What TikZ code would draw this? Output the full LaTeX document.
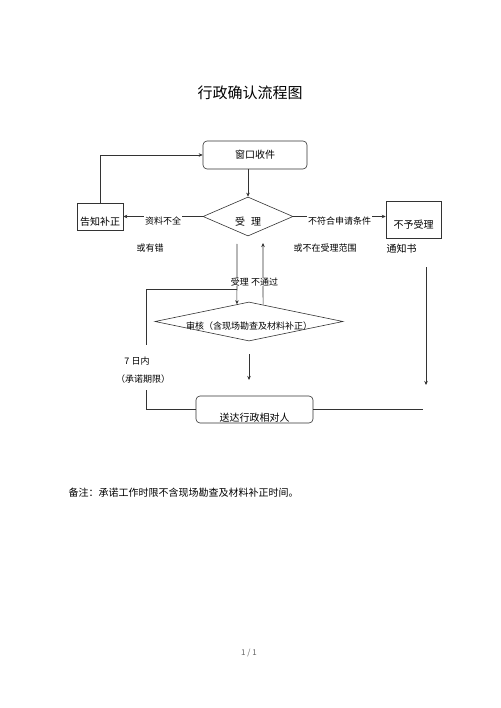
\documentclass[tikz,border=0pt]{standalone}
\usepackage{fontspec}
\setmainfont{Noto Sans CJK SC}
\usepackage{tikz}
\usetikzlibrary{arrows.meta}
\usetikzlibrary{shapes.geometric}
\usetikzlibrary{calc}

\begin{document}
\begin{tikzpicture}[x=1pt,y=-1pt,
        every node/.style={font=\fontsize{9}{11}\selectfont},
        line/.style={draw=black!80,line width=0.6pt},
        box/.style={line,rectangle,inner sep=0pt},
        rbox/.style={box,rounded corners=4pt},
        dia/.style={line,diamond,inner sep=0pt},
        intext/.style={label={[font=\fontsize{10}{12}\selectfont,yshift=-5pt]center:#1}},
        arr/.style={line,-{Stealth[length=4pt,width=3.5pt]}},
        onl/.style={fill=white,inner sep=1pt,yshift=-5pt}]
        \useasboundingbox[fill=white] (0,0) rectangle (500,708);

        \node[font=\fontsize{15}{18}\selectfont] (title) at (250,93) {行政确认流程图};

        % boxes and decisions
        \node[rbox,minimum width=104pt,minimum height=28pt,font=\fontsize{10}{12}\selectfont] (win) at (255,155) {窗口收件};
        \node[dia,minimum width=90pt,minimum height=39pt,intext={受\hspace{6pt}理}] (acc) at (248,216.5) {};
        \node[box,minimum width=46pt,minimum height=27pt,intext=告知补正] (gz) at (100,216.5) {};
        \node[box,minimum width=55pt,minimum height=37pt,intext=不予受理] (byl) at (413.5,220) {};
        \node[dia,minimum width=188pt,minimum height=39pt,label={[yshift=-5pt]center:审核（含现场勘查及材料补正）}] (sh) at (249,321.5) {};
        \node[rbox,minimum width=117pt,minimum height=27pt,label={[font=\fontsize{10}{12}\selectfont,yshift=-8pt]center:送达行政相对人}] (sd) at (254.5,409.5) {};

        % free texts
        \node (cyc) at (150,248) {或有错};
        \node (bzfw) at (325,248) {或不在受理范围};
        \node[font=\fontsize{10}{12}\selectfont] (tzs) at (401.5,249) {通知书};
        \node (qx1) at (137,361) {7 日内};
        \node (qx2) at (143,379) {（承诺期限）};

        % free ends
        \coordinate (l1) at (237,244);
        \coordinate (lk) at (237,289);
        \coordinate (lp1) at (146,345);
        \coordinate (lp2) at (146,390);
        \coordinate (r1) at (263,243);
        \coordinate (d1) at (249,354);
        \coordinate (d2) at (249,380);
        \coordinate (rv1) at (426,267);
        \coordinate (rv2) at (426,385);
        \coordinate (se) at (423,410);

        \draw[arr] (acc.north |- win.south) -- (acc.north);
        \draw[arr] (acc.west) -- node[onl] {资料不全} (gz.east);
        \draw[arr] (gz.north) |- (win.west);
        \draw[arr] (acc.east) -- node[onl] {不符合申请条件} (acc.east -| byl.west);
        \draw[arr] (l1) -- ($(sh.north)!0.128!(sh.west)$);
        \draw[arr] ($(sh.north)!0.149!(sh.east)$) -- (r1);
        \draw[line] (lk) -| (lp1);
        \draw[line] (lp2) |- (sd.west);
        \draw[arr] (d1) -- (d2);
        \draw[arr] (rv1) -- (rv2);
        \draw[line] (sd.east) -- (sd.east -| se);

        \node[fill=white,inner sep=0pt] (btg) at (254.5,282) {受理\ 不通过};

        \node[anchor=west,font=\fontsize{10}{12}\selectfont] (note) at (65,493) {备注：承诺工作时限不含现场勘查及材料补正时间。};
        \node[font=\fontsize{8}{10}\selectfont,text=black!60] (pg) at (249,653) {1 / 1};
    \end{tikzpicture}
\end{document}
